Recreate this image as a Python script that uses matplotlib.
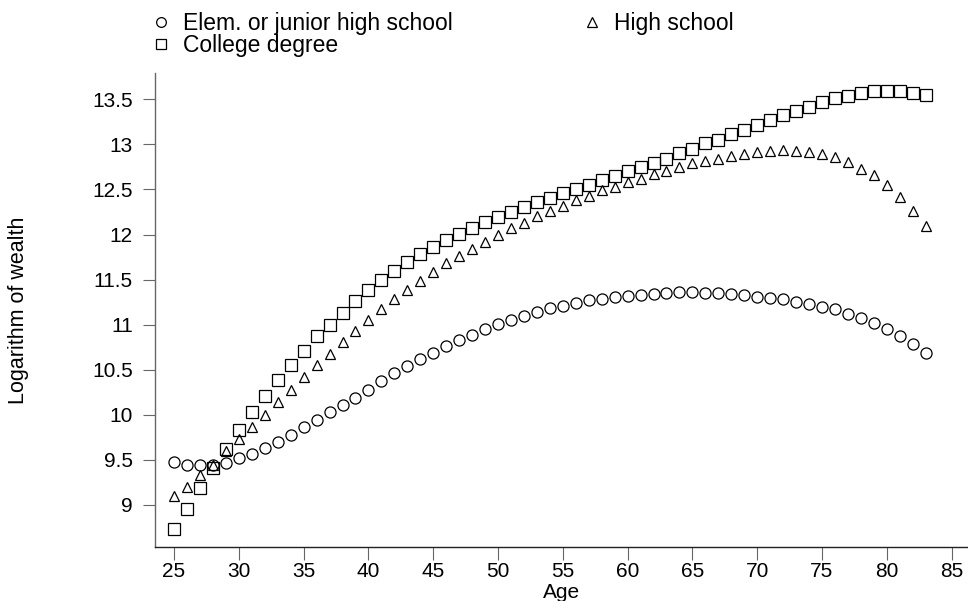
import matplotlib
matplotlib.use("Agg")
import matplotlib.pyplot as plt
from matplotlib.lines import Line2D

plt.rcParams['font.family'] = ['Liberation Sans', 'DejaVu Sans']

ages = list(range(25, 84))

elem = [9.48, 9.44, 9.44, 9.44, 9.47, 9.52, 9.57, 9.63, 9.70, 9.78,
        9.86, 9.94, 10.03, 10.11, 10.19, 10.28, 10.38, 10.46, 10.54, 10.62,
        10.69, 10.76, 10.83, 10.89, 10.95, 11.01, 11.05, 11.10, 11.14, 11.18,
        11.21, 11.24, 11.27, 11.29, 11.31, 11.32, 11.33, 11.34, 11.35, 11.36,
        11.36, 11.35, 11.35, 11.34, 11.33, 11.31, 11.30, 11.28, 11.25, 11.23,
        11.20, 11.17, 11.12, 11.07, 11.02, 10.95, 10.87, 10.79, 10.69]

high = [9.10, 9.20, 9.33, 9.44, 9.60, 9.73, 9.86, 10.00, 10.14, 10.28,
        10.42, 10.55, 10.68, 10.81, 10.93, 11.05, 11.17, 11.28, 11.39, 11.48,
        11.58, 11.68, 11.76, 11.84, 11.92, 11.99, 12.07, 12.13, 12.20, 12.26,
        12.32, 12.38, 12.43, 12.49, 12.53, 12.58, 12.62, 12.67, 12.71, 12.75,
        12.79, 12.82, 12.84, 12.87, 12.89, 12.92, 12.93, 12.94, 12.93, 12.92,
        12.89, 12.86, 12.80, 12.73, 12.66, 12.55, 12.42, 12.26, 12.09]

college = [8.73, 8.96, 9.185, 9.41, 9.62, 9.83, 10.03, 10.21, 10.39, 10.55,
           10.71, 10.87, 11.00, 11.13, 11.26, 11.38, 11.50, 11.60, 11.70, 11.78,
           11.86, 11.94, 12.01, 12.07, 12.14, 12.19, 12.25, 12.31, 12.36, 12.41,
           12.46, 12.50, 12.55, 12.60, 12.65, 12.70, 12.75, 12.79, 12.84, 12.90,
           12.95, 13.01, 13.05, 13.11, 13.16, 13.21, 13.27, 13.33, 13.37, 13.42,
           13.47, 13.51, 13.54, 13.57, 13.59, 13.59, 13.59, 13.57, 13.55]

labels = ["Elem. or junior high school", "High school", "College degree"]
xticks = [25, 30, 35, 40, 45, 50, 55, 60, 65, 70, 75, 80, 85]
yticks = [9, 9.5, 10, 10.5, 11, 11.5, 12, 12.5, 13, 13.5]
ytick_labels = ["9", "9.5", "10", "10.5", "11", "11.5", "12", "12.5", "13", "13.5"]

W, H = 968, 601
fig = plt.figure(figsize=(W / 100, H / 100), dpi=100)
ax = fig.add_axes([155 / W, 1 - 547 / H, 1 - 155 / W, (547 - 72.7) / H])

mk = dict(linestyle='none', mfc='none', mec='black', mew=0.9)
ax.plot(ages, elem, marker='o', markersize=8.0, **mk)
ax.plot(ages, high, marker='^', markersize=7.8, **mk)
ax.plot(ages, college, marker='s', markersize=8.0, **mk)

ax.set_xlim(23.53, 86.27)
ax.set_ylim(8.534, 13.795)
ax.set_xticks(xticks)
ax.set_yticks(yticks)
ax.set_yticklabels(ytick_labels)

for s in ['top', 'right']:
    ax.spines[s].set_visible(False)
ax.spines['left'].set_color('#666666')
ax.spines['left'].set_linewidth(1.0)
ax.spines['bottom'].set_color('#222222')
ax.spines['bottom'].set_linewidth(1.0)

ax.tick_params(axis='both', direction='out', length=9, width=0.8,
               color='#666666', labelsize=15)
ax.tick_params(axis='y', pad=7)
ax.tick_params(axis='x', pad=2)

fig.text((155 + 968) / 2 / W, 1 - 598 / H, "Age", fontsize=15,
         ha='center', va='baseline')
fig.text(18.5 / W, 1 - 310 / H, "Logarithm of wealth", rotation=90,
         fontsize=15.5, ha='center', va='center')

def h(marker, size):
    return Line2D([], [], marker=marker, markersize=size, **mk)

leg1 = fig.legend([h('o', 7.0), h('s', 7.0)], [labels[0], labels[2]],
                  loc='upper left', bbox_to_anchor=(150 / W, 1 - 12 / H),
                  frameon=False, fontsize=16.5, handlelength=1.0,
                  handletextpad=0.45, labelspacing=-0.05, borderpad=0,
                  borderaxespad=0)
leg2 = fig.legend([h('^', 7.0)], [labels[1]],
                  loc='upper left', bbox_to_anchor=(581 / W, 1 - 12 / H),
                  frameon=False, fontsize=16.5, handlelength=1.0,
                  handletextpad=0.45, borderpad=0, borderaxespad=0)

fig.savefig("out.png", dpi=100)
